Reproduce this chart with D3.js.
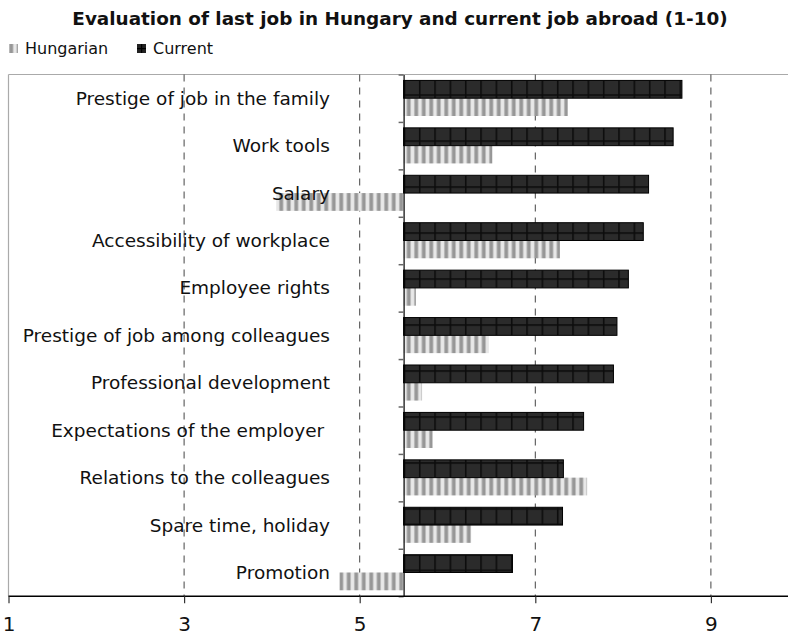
<!DOCTYPE html>
<html>
<head>
<meta charset="utf-8">
<script src="https://cdn.jsdelivr.net/npm/d3@7"></script>
<style>
  html, body { margin: 0; padding: 0; background: #fff; }
  svg { display: block; font-family: "DejaVu Sans", Verdana, sans-serif; }
</style>
</head>
<body>
<svg id="chart" width="788" height="638"></svg>
<script>
// Ratings of the last job in Hungary vs. the current job abroad (scale 1-10)
const categories = [
  "Prestige of job in the family",
  "Work tools",
  "Salary",
  "Accessibility of workplace",
  "Employee rights",
  "Prestige of job among colleagues",
  "Professional development",
  "Expectations of the employer ",
  "Relations to the colleagues",
  "Spare time, holiday",
  "Promotion"
];
const currentValues   = [8.67, 8.57, 8.29, 8.23, 8.06, 7.93, 7.89, 7.55, 7.32, 7.31, 6.74];
const hungarianValues = [7.37, 6.51, 4.05, 7.28, 5.64, 6.47, 5.71, 5.83, 7.59, 6.27, 4.77];
const seriesNames = ["Current", "Hungarian"];
const legendLabels = ["Hungarian", "Current"];
const xTicks = [1, 3, 5, 7, 9];
const gridValues = [3, 5, 7, 9];
const crossValue = 5.5;
const titleText = "Evaluation of last job in Hungary and current job abroad (1-10)";

const rows = categories.map((c, i) => ({
  category: c,
  Current: currentValues[i],
  Hungarian: hungarianValues[i]
}));

const svg = d3.select("#chart");
const plotTop = 74.5, plotBottom = 596.2, plotLeft = 8.5;

const x = d3.scaleLinear().domain([1, 10]).range([plotLeft, plotLeft + 9 * 87.8]);
const y = d3.scaleBand().domain(categories).range([plotTop, plotBottom])
  .paddingInner(0.25).paddingOuter(0.125);
const ySub = d3.scaleBand().domain(seriesNames).range([0, y.bandwidth()]);
const yIdx = d3.scaleLinear().domain([0, categories.length]).range([plotTop, plotBottom]);

// fill patterns
const defs = svg.append("defs");
const grid = defs.append("pattern").attr("id", "gridFill")
  .attr("patternUnits", "userSpaceOnUse")
  .attr("x", x(crossValue)).attr("y", 94.3)
  .attr("width", 15.33).attr("height", 15.33);
grid.append("rect").attr("width", 15.33).attr("height", 15.33).attr("fill", "#2b2b2b");
grid.append("rect").attr("width", 15.33).attr("height", 1.6).attr("fill", "#0c0c0c");
grid.append("rect").attr("width", 1.6).attr("height", 15.33).attr("fill", "#0c0c0c");

const stripe = defs.append("pattern").attr("id", "stripeFill")
  .attr("patternUnits", "userSpaceOnUse")
  .attr("x", x(crossValue)).attr("y", 0)
  .attr("width", 7.5).attr("height", 10);
stripe.append("rect").attr("width", 7.5).attr("height", 10).attr("fill", "#e8e8e8");
stripe.append("rect").attr("x", 2.8).attr("width", 1).attr("height", 10).attr("fill", "#bbb");
stripe.append("rect").attr("x", 3.8).attr("width", 2.8).attr("height", 10).attr("fill", "#969696");
stripe.append("rect").attr("x", 6.6).attr("width", 0.9).attr("height", 10).attr("fill", "#c0c0c0");

const legendGrid = defs.append("pattern").attr("id", "legendGrid")
  .attr("patternUnits", "userSpaceOnUse").attr("x", 137).attr("y", 44)
  .attr("width", 9).attr("height", 9);
legendGrid.append("rect").attr("width", 9).attr("height", 9).attr("fill", "#222");
legendGrid.append("rect").attr("x", 4).attr("width", 1.2).attr("height", 9).attr("fill", "#000");
legendGrid.append("rect").attr("y", 4).attr("width", 9).attr("height", 1.2).attr("fill", "#000");

// title
svg.append("text")
  .attr("x", 400).attr("y", 18)
  .attr("text-anchor", "middle").attr("dominant-baseline", "central")
  .attr("font-weight", "bold").attr("font-size", 18.4).attr("fill", "#111")
  .text(titleText);

// legend
const legendX = [9, 137];
const legendFill = ["url(#stripeFill)", "url(#legendGrid)"];
legendLabels.forEach((name, i) => {
  svg.append("rect").attr("x", legendX[i]).attr("y", 44).attr("width", 9).attr("height", 9)
    .attr("fill", legendFill[i]);
  svg.append("text").attr("x", legendX[i] + 16).attr("y", 48.5)
    .attr("dominant-baseline", "central").attr("font-size", 16).attr("fill", "#111")
    .text(name);
});

// plot frame (top and left edges)
svg.append("line").attr("x1", plotLeft).attr("x2", 788).attr("y1", plotTop).attr("y2", plotTop)
  .attr("stroke", "#aaa").attr("stroke-width", 1.2);
svg.append("line").attr("x1", plotLeft).attr("x2", plotLeft).attr("y1", plotTop).attr("y2", plotBottom)
  .attr("stroke", "#aaa").attr("stroke-width", 1.2);

// dashed vertical gridlines
svg.append("g").selectAll("line").data(gridValues).join("line")
  .attr("x1", d => x(d)).attr("x2", d => x(d))
  .attr("y1", plotTop).attr("y2", plotBottom)
  .attr("stroke", "#444").attr("stroke-width", 1)
  .attr("stroke-dasharray", "7,6");

// bars
const barG = svg.append("g");
rows.forEach(r => {
  const y0 = y(r.category);
  const h = r.Hungarian;
  barG.append("rect")
    .attr("x", Math.min(x(crossValue), x(h)))
    .attr("y", y0 + ySub("Hungarian"))
    .attr("width", Math.abs(x(h) - x(crossValue)))
    .attr("height", ySub.bandwidth())
    .attr("fill", "url(#stripeFill)");
  const c = r.Current;
  barG.append("rect")
    .attr("x", Math.min(x(crossValue), x(c)))
    .attr("y", y0 + ySub("Current"))
    .attr("width", Math.abs(x(c) - x(crossValue)))
    .attr("height", ySub.bandwidth())
    .attr("fill", "url(#gridFill)")
    .attr("stroke", "#000").attr("stroke-width", 1);
});

// vertical axis crossing at 5.5, ticks between categories
const yAxis = svg.append("g").attr("transform", `translate(${x(crossValue)},0)`)
  .call(d3.axisLeft(yIdx).tickValues(d3.range(0, categories.length + 1)).tickFormat("").tickSize(5).tickSizeOuter(0));
yAxis.select(".domain").attr("stroke", "#000").attr("stroke-width", 1.2);
yAxis.selectAll(".tick line").attr("stroke", "#666").attr("stroke-width", 1.5);

// category labels
svg.append("g").selectAll("text").data(rows).join("text")
  .attr("x", 330)
  .attr("y", d => y(d.category) + y.bandwidth() / 2)
  .attr("text-anchor", "end").attr("dominant-baseline", "central")
  .attr("font-size", 18.5).attr("fill", "#111")
  .style("white-space", "pre")
  .text(d => d.category);

// horizontal axis
const xAxis = svg.append("g").attr("transform", `translate(0,${plotBottom})`)
  .call(d3.axisBottom(x).tickValues(xTicks).tickFormat(d3.format("d")).tickSize(7).tickSizeOuter(0).tickPadding(14));
xAxis.select(".domain").attr("stroke", "#000").attr("stroke-width", 1.4).attr("d", `M${plotLeft},0H788`);
xAxis.selectAll(".tick line").attr("stroke", "#333").attr("stroke-width", 1.2);
xAxis.selectAll(".tick text").attr("font-size", 20).attr("fill", "#111")
  .attr("font-family", "DejaVu Sans, sans-serif");
</script>
</body>
</html>
